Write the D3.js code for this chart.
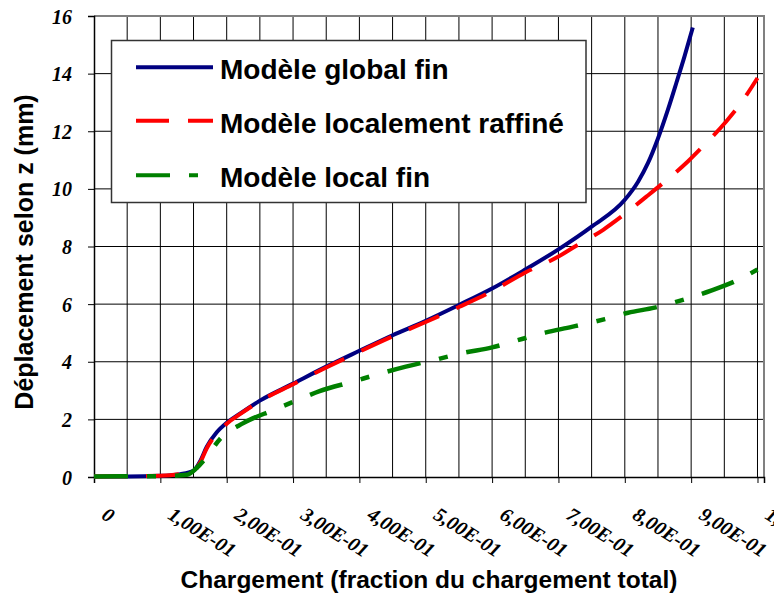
<!DOCTYPE html>
<html><head><meta charset="utf-8">
<script src="https://cdn.jsdelivr.net/npm/d3@7"></script>
<style>body{margin:0;background:#fff}svg{display:block}</style>
</head><body>
<svg id="c" width="774" height="596"></svg>
<script>
// ---- data ----
const seriesNames = ["Modèle global fin", "Modèle localement raffiné", "Modèle local fin"];
const globalX = [0, 0.05, 0.1, 0.13, 0.15, 0.16, 0.17, 0.185, 0.2, 0.22, 0.25, 0.3, 0.35, 0.4, 0.45, 0.5, 0.55, 0.6, 0.65, 0.7, 0.75, 0.8, 0.82, 0.835, 0.85, 0.865, 0.878, 0.89, 0.9025];
const globalY = [0.02, 0.02, 0.04, 0.1, 0.22, 0.55, 1.05, 1.55, 1.88, 2.2, 2.65, 3.24, 3.83, 4.38, 4.92, 5.42, 5.97, 6.54, 7.2, 7.9, 8.69, 9.62, 10.25, 10.9, 11.75, 12.75, 13.7, 14.6, 15.6];
const raffineX = [0, 0.1, 0.13, 0.15, 0.16, 0.17, 0.185, 0.2, 0.22, 0.25, 0.3, 0.35, 0.4, 0.45, 0.5, 0.55, 0.6, 0.65, 0.7, 0.725, 0.7675, 0.795, 0.8325, 0.8575, 0.895, 0.9175, 0.9525, 0.9725, 1.0];
const raffineY = [0.02, 0.04, 0.1, 0.2, 0.5, 1.0, 1.5, 1.85, 2.18, 2.63, 3.22, 3.8, 4.35, 4.88, 5.38, 5.9, 6.45, 7.1, 7.65, 8.0, 8.58, 9.04, 9.73, 10.2, 10.95, 11.47, 12.33, 12.9, 13.85];
const localX = [0, 0.1, 0.14, 0.155, 0.167, 0.19, 0.225, 0.27, 0.31, 0.34, 0.39, 0.43, 0.47, 0.52, 0.555, 0.6, 0.645, 0.68, 0.72, 0.77, 0.805, 0.845, 0.895, 0.93, 0.967, 1.0];
const localY = [0.02, 0.03, 0.08, 0.32, 0.62, 1.32, 1.87, 2.32, 2.7, 2.98, 3.31, 3.58, 3.83, 4.1, 4.3, 4.5, 4.79, 5.01, 5.21, 5.48, 5.7, 5.88, 6.2, 6.47, 6.8, 7.2];
const xTickValues = [0, 0.1, 0.2, 0.3, 0.4, 0.5, 0.6, 0.7, 0.8, 0.9, 1.0];
const xTickLabels = ["0", "1,00E-01", "2,00E-01", "3,00E-01", "4,00E-01", "5,00E-01", "6,00E-01", "7,00E-01", "8,00E-01", "9,00E-01", "1,00E+00"];
const yTickValues = [0, 2, 4, 6, 8, 10, 12, 14, 16];
const yTickLabels = ["0", "2", "4", "6", "8", "10", "12", "14", "16"];
const xTitle = "Chargement (fraction du chargement total)";
const yTitle = "Déplacement selon z (mm)";

// ---- layout ----
const svg = d3.select("#c");
const L = 94, R = 764, T = 16, B = 477;
const x = d3.scaleLinear().domain([0, 1.0098]).range([L, R]);
const y = d3.scaleLinear().domain([0, 16]).range([B, T]);

const grid = svg.append("g");
grid.selectAll("line.v").data(d3.range(1, 21).map(i => i * 0.05)).join("line")
  .attr("x1", d => x(d)).attr("x2", d => x(d)).attr("y1", T).attr("y2", B)
  .attr("stroke", "#000").attr("stroke-width", 1);
grid.selectAll("line.h").data(yTickValues.slice(1)).join("line")
  .attr("x1", L).attr("x2", R).attr("y1", d => y(d)).attr("y2", d => y(d))
  .attr("stroke", "#000").attr("stroke-width", 1);
svg.append("path").attr("d", `M${L},${T}H${R}V${B}`).attr("fill", "none")
  .attr("stroke", "#808080").attr("stroke-width", 2);

// axes
const yAxis = d3.axisLeft(y).tickValues(yTickValues).tickSize(6).tickFormat((d, i) => yTickLabels[i]);
const gy = svg.append("g").attr("transform", `translate(${L},0)`).call(yAxis);
gy.select(".domain").attr("stroke", "#000").attr("stroke-width", 1.5);
gy.selectAll(".tick line").attr("stroke", "#000");
gy.selectAll(".tick text").attr("x", -22).attr("dy", "0.35em")
  .attr("font-family", "'Liberation Serif', 'Times New Roman', serif")
  .attr("font-size", 20).attr("font-weight", "bold").attr("font-style", "italic").attr("fill", "#000");

const xAxis = d3.axisBottom(x).tickValues(xTickValues).tickSize(6).tickFormat((d, i) => xTickLabels[i]);
const gx = svg.append("g").attr("transform", `translate(0,${B})`).call(xAxis);
gx.select(".domain").attr("stroke", "#000").attr("stroke-width", 1.5);
gx.selectAll(".tick line").attr("stroke", "#000");
gx.selectAll(".tick text").attr("y", 0).attr("dy", 0)
  .attr("text-anchor", "start")
  .attr("transform", "translate(6,41) rotate(32)")
  .attr("font-family", "'Liberation Serif', 'Times New Roman', serif")
  .attr("font-size", 20).attr("font-weight", "bold").attr("font-style", "italic").attr("fill", "#000");

// lines
const line = d3.line().x(d => x(d[0])).y(d => y(d[1])).curve(d3.curveMonotoneX);
const series = [
  {xs: globalX, ys: globalY, color: "#000080", dash: null, w: 4},
  {xs: raffineX, ys: raffineY, color: "#FF0000", dash: "33,19", w: 4},
  {xs: localX, ys: localY, color: "#008000", dash: "34,19,9,19", w: 4.5}
];
series.forEach(s => {
  svg.append("path").datum(d3.zip(s.xs, s.ys)).attr("d", line)
    .attr("fill", "none").attr("stroke", s.color).attr("stroke-width", s.w)
    .attr("stroke-dasharray", s.dash);
});

// legend
const lg = svg.append("g");
lg.append("rect").attr("x", 111.5).attr("y", 40.5).attr("width", 474.5).attr("height", 162)
  .attr("fill", "#fff").attr("stroke", "#333").attr("stroke-width", 1.5);
const ly = [67.3, 120.7, 175.3];
series.forEach((s, i) => {
  lg.append("line").attr("x1", 136).attr("x2", 213).attr("y1", ly[i]).attr("y2", ly[i])
    .attr("stroke", s.color).attr("stroke-width", 4).attr("stroke-dasharray", s.dash);
  lg.append("text").attr("x", 220).attr("y", ly[i] + 12).text(seriesNames[i])
    .attr("font-family", "'Liberation Sans', Arial, sans-serif").attr("font-weight", "bold")
    .attr("font-size", 28).attr("fill", "#000");
});

// titles
svg.append("text").attr("x", 429).attr("y", 588).attr("text-anchor", "middle").text(xTitle)
  .attr("font-family", "'Liberation Sans', Arial, sans-serif").attr("font-weight", "bold")
  .attr("font-size", 24.5).attr("fill", "#000");
svg.append("text").attr("transform", "translate(33,252) rotate(-90)").attr("text-anchor", "middle").text(yTitle)
  .attr("font-family", "'Liberation Sans', Arial, sans-serif").attr("font-weight", "bold")
  .attr("font-size", 25).attr("fill", "#000");
</script>
</body></html>
